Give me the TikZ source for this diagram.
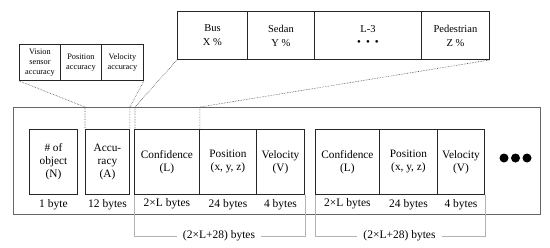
\documentclass[tikz,border=0pt]{standalone}
\usepackage{fontspec}
\setmainfont{Liberation Serif}
\begin{document}
\begin{tikzpicture}[x=1pt,y=1pt,
  cell/.style={draw=black!85, line width=0.9pt, fill=white, anchor=north west, inner sep=0pt,
    minimum height=65pt, align=center, font=\fontsize{11.3}{13}\selectfont},
  small/.style={draw=black!85, line width=0.9pt, anchor=north west, inner sep=0pt,
    minimum height=36pt, align=center, font=\fontsize{8.3}{10}\selectfont},
  cls/.style={draw=black!85, line width=0.9pt, anchor=north west, inner sep=0pt,
    minimum height=48pt, align=center, font=\fontsize{10.5}{14}\selectfont},
  bytes/.style={font=\fontsize{11.5}{13}\selectfont, inner sep=0pt},
  conn/.style={draw=black!70, densely dotted, line width=0.6pt},
  brk/.style={draw=black!30, line width=0.5pt},
  dot/.style={circle, fill=black, inner sep=0pt, minimum size=9pt}
]
\useasboundingbox (0,0) rectangle (550,-247);
% outer frame
\node[draw=black!60, line width=0.7pt, anchor=north west, minimum width=527pt, minimum height=107pt, inner sep=0pt] (outer) at (13,-107) {};
% inner cells
\node[cell, minimum width=48pt] (nobj) at (29,-129) {\# of\\object\\(N)};
\node[cell, minimum width=44pt] (acc) at (85,-129) {Accu-\\racy\\(A)};
\node[cell, minimum width=65pt] (conf1) at (134,-129) {Confidence\\(L)};
\node[cell, minimum width=57pt] (pos1) at (199,-129) {Position\\(x, y, z)};
\node[cell, minimum width=48pt] (vel1) at (256,-129) {Velocity\\(V)};
\node[cell, minimum width=64pt] (conf2) at (315,-129) {Confidence\\(L)};
\node[cell, minimum width=58pt] (pos2) at (379,-129) {Position\\(x, y, z)};
\node[cell, minimum width=47pt] (vel2) at (437,-129) {Velocity\\(V)};
% byte labels
\node[bytes] (b1) at ([yshift=-10pt]nobj.south) {1 byte};
\node[bytes] (b2) at ([yshift=-10pt]acc.south) {12 bytes};
\node[bytes] (b3) at ([yshift=-9pt]conf1.south) {2×L bytes};
\node[bytes] (b4) at ([yshift=-10pt]pos1.south) {24 bytes};
\node[bytes] (b5) at ([yshift=-10pt]vel1.south) {4 bytes};
\node[bytes] (b6) at ([yshift=-9pt]conf2.south) {2×L bytes};
\node[bytes] (b7) at ([yshift=-10pt]pos2.south) {24 bytes};
\node[bytes] (b8) at ([yshift=-10pt]vel2.south) {4 bytes};
% more dots
\node[dot] (d1) at (504,-158) {};
\node[dot] (d2) at (515.5,-158) {};
\node[dot] (d3) at (527,-158) {};
% brackets
\node[font=\fontsize{11.5}{13}\selectfont, fill=white, inner xsep=6pt, inner ysep=0pt] (g1) at (219,-236) {(2×L+28) bytes};
\node[font=\fontsize{11.5}{13}\selectfont, fill=white, inner xsep=6pt, inner ysep=0pt] (g2) at (399.5,-236) {(2×L+28) bytes};
\draw[brk] (conf1.south west) |- (g1.west);
\draw[brk] (vel1.south east) |- (g1.east);
\draw[brk] (conf2.south west) |- (g2.west);
\draw[brk] (vel2.south east) |- (g2.east);
% accuracy detail
\node[small, minimum width=41pt] (vis) at (19,-44) {Vision\\sensor\\accuracy};
\node[small, minimum width=41pt] (posa) at (60,-44) {Position\\accuracy};
\node[small, minimum width=42pt] (vela) at (101,-44) {Velocity\\accuracy};
% class detail
\node[cls, minimum width=70pt] (bus) at (177,-11) {Bus\\X \%};
\node[cls, minimum width=67pt] (sedan) at (247,-11) {Sedan\\Y \%};
\node[cls, minimum width=107pt] (lm3) at (314,-11) {L-3\\[-1pt]{\fontsize{11}{12}\selectfont •\hspace{5pt}•\hspace{5pt}•}};
\node[cls, minimum width=68pt] (ped) at (421,-11) {Pedestrian\\Z \%};
% connectors
\draw[conn] (vis.south west) -- (acc.north west |- outer.north) -- (acc.north west);
\draw[conn] (vela.south east) -- (acc.north east |- outer.north) -- (acc.north east);
\draw[conn] (bus.south west) -- ([xshift=1pt]conf1.north west |- outer.north) -- ([xshift=1pt]conf1.north west);
\draw[conn] (ped.south east) -- (conf1.north east |- outer.north) -- (conf1.north east);
\end{tikzpicture}
\end{document}
